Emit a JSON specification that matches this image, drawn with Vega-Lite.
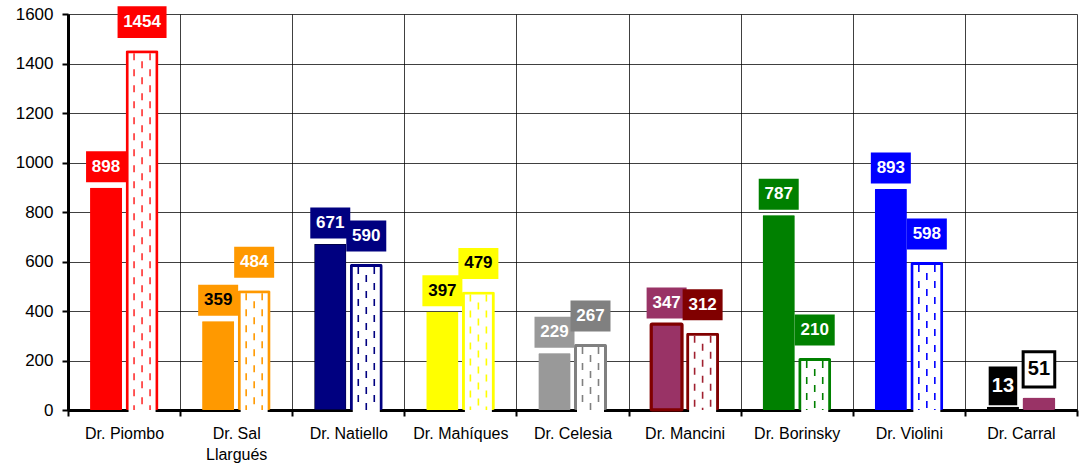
{
  "$schema": "https://vega.github.io/schema/vega-lite/v6.json",
  "width": 1009,
  "height": 396,
  "autosize": {"type": "none"},
  "padding": {"left": 68, "top": 14, "right": 2, "bottom": 56},
  "background": "white",
  "config": {"view": {"stroke": null}, "font": "Liberation Sans"},
  "data": {
    "values": [
      {"doctor": "Dr. Piombo", "serie": "A", "value": 898},
      {"doctor": "Dr. Piombo", "serie": "B", "value": 1454},
      {"doctor": "Dr. Sal Llargués", "serie": "A", "value": 359},
      {"doctor": "Dr. Sal Llargués", "serie": "B", "value": 484},
      {"doctor": "Dr. Natiello", "serie": "A", "value": 671},
      {"doctor": "Dr. Natiello", "serie": "B", "value": 590},
      {"doctor": "Dr. Mahíques", "serie": "A", "value": 397},
      {"doctor": "Dr. Mahíques", "serie": "B", "value": 479},
      {"doctor": "Dr. Celesia", "serie": "A", "value": 229},
      {"doctor": "Dr. Celesia", "serie": "B", "value": 267},
      {"doctor": "Dr. Mancini", "serie": "A", "value": 347},
      {"doctor": "Dr. Mancini", "serie": "B", "value": 312},
      {"doctor": "Dr. Borinsky", "serie": "A", "value": 787},
      {"doctor": "Dr. Borinsky", "serie": "B", "value": 210},
      {"doctor": "Dr. Violini", "serie": "A", "value": 893},
      {"doctor": "Dr. Violini", "serie": "B", "value": 598},
      {"doctor": "Dr. Carral", "serie": "A", "value": 13},
      {"doctor": "Dr. Carral", "serie": "B", "value": 51}
    ]
  },
  "transform": [{"calculate": "datum.doctor + ' ' + datum.serie", "as": "key"}],
  "encoding": {
    "x": {
      "field": "doctor", "type": "nominal", "sort": null,
      "scale": {"paddingInner": 0, "paddingOuter": 0},
      "axis": {
        "title": null, "tickBand": "extent", "grid": true, "gridColor": "#000", "gridWidth": 1, "gridOpacity": 0.75,
        "domainColor": "#000", "domainWidth": 3, "tickColor": "#000", "tickWidth": 2, "tickSize": 6,
        "labelAngle": 0, "labelFont": "Liberation Sans", "labelFontSize": 16, "labelColor": "#000",
        "labelPadding": 9, "labelLineHeight": 21, "labelBaseline": "top",
        "labelExpr": "datum.value == 'Dr. Sal Llargués' ? ['Dr. Sal', 'Llargués'] : datum.value"
      }
    },
    "y": {
      "field": "value", "type": "quantitative",
      "scale": {"domain": [0, 1600], "nice": false},
      "axis": {
        "title": null, "values": [0, 200, 400, 600, 800, 1000, 1200, 1400, 1600], "format": "d",
        "grid": true, "gridColor": "#000", "gridWidth": 1, "gridOpacity": 0.75,
        "domainColor": "#000", "domainWidth": 3, "tickColor": "#000", "tickWidth": 2, "tickSize": 6,
        "labelFont": "Liberation Sans", "labelFontSize": 17, "labelColor": "#000", "labelPadding": 9
      }
    }
  },
  "layer": [
    {
      "transform": [{"filter": "datum.serie == 'A'"}],
      "mark": {"type": "bar", "cornerRadius": 1, "strokeWidth": 1, "width": 32, "xOffset": -18},
      "encoding": {
        "fill": {"field": "key", "type": "nominal", "legend": null, "scale": {
          "domain": ["Dr. Piombo A","Dr. Sal Llargués A","Dr. Natiello A","Dr. Mahíques A","Dr. Celesia A","Dr. Mancini A","Dr. Borinsky A","Dr. Violini A","Dr. Carral A"],
          "range": ["#FF0000","#FF9900","#000080","#FFFF00","#999999","#993366","#008000","#0000FF","#000000"]}},
        "stroke": {"field": "key", "type": "nominal", "legend": null, "scale": {
          "domain": ["Dr. Piombo A","Dr. Sal Llargués A","Dr. Natiello A","Dr. Mahíques A","Dr. Celesia A","Dr. Mancini A","Dr. Borinsky A","Dr. Violini A","Dr. Carral A"],
          "range": ["#FF0000","#FF9900","#000000","#FFFF00","#999999","#800000","#008000","#0000FF","#000000"]}}
      }
    },
    {
      "transform": [{"filter": "datum.doctor == 'Dr. Mancini' && datum.serie == 'A'"}],
      "mark": {"type": "bar", "cornerRadius": 1, "strokeWidth": 3, "width": 31, "xOffset": -18, "fill": "#993366", "stroke": "#800000"},
      "encoding": {}
    },
    {
      "transform": [{"filter": "datum.serie == 'B'"}],
      "mark": {"type": "bar", "cornerRadius": 2, "width": 33, "xOffset": 18},
      "encoding": {
        "fill": {"field": "key", "type": "nominal", "legend": null, "scale": {
          "domain": ["Dr. Piombo B","Dr. Sal Llargués B","Dr. Natiello B","Dr. Mahíques B","Dr. Celesia B","Dr. Mancini B","Dr. Borinsky B","Dr. Violini B","Dr. Carral B"],
          "range": ["#FF0000","#FF9900","#000080","#FFFF00","#808080","#800000","#008000","#0000FF","#993366"]}}
      }
    },
    {
      "transform": [{"filter": "datum.serie == 'B' && datum.doctor != 'Dr. Carral'"}],
      "mark": {"type": "bar", "width": 27, "xOffset": 18, "yOffset": 3, "y2Offset": 0, "fill": "#FFFFFF"},
      "encoding": {}
    },
    {
      "transform": [{"filter": "datum.serie == 'B' && datum.doctor != 'Dr. Carral'"}],
      "mark": {"type": "rule", "xOffset": 10, "yOffset": 3, "strokeDash": [7, 9], "strokeWidth": 1.6},
      "encoding": {
        "y2": {"datum": 0},
        "stroke": {"field": "key", "type": "nominal", "legend": null, "scale": {
          "domain": ["Dr. Piombo B","Dr. Sal Llargués B","Dr. Natiello B","Dr. Mahíques B","Dr. Celesia B","Dr. Mancini B","Dr. Borinsky B","Dr. Violini B"],
          "range": ["#FF3030","#FF9900","#000080","#FFFF00","#808080","#A02030","#008000","#0000FF"]}}
      }
    },
    {
      "transform": [{"filter": "datum.serie == 'B' && datum.doctor != 'Dr. Carral'"}],
      "mark": {"type": "rule", "xOffset": 26, "yOffset": 3, "strokeDash": [7, 9], "strokeWidth": 1.6},
      "encoding": {
        "y2": {"datum": 0},
        "stroke": {"field": "key", "type": "nominal", "legend": null, "scale": {
          "domain": ["Dr. Piombo B","Dr. Sal Llargués B","Dr. Natiello B","Dr. Mahíques B","Dr. Celesia B","Dr. Mancini B","Dr. Borinsky B","Dr. Violini B"],
          "range": ["#FF3030","#FF9900","#000080","#FFFF00","#808080","#A02030","#008000","#0000FF"]}}
      }
    },
    {
      "transform": [{"filter": "datum.serie == 'B' && datum.doctor != 'Dr. Carral'"}],
      "mark": {"type": "rule", "xOffset": 18, "yOffset": 3, "strokeDash": [7, 9], "strokeDashOffset": 8, "strokeWidth": 1.6},
      "encoding": {
        "y2": {"datum": 0},
        "stroke": {"field": "key", "type": "nominal", "legend": null, "scale": {
          "domain": ["Dr. Piombo B","Dr. Sal Llargués B","Dr. Natiello B","Dr. Mahíques B","Dr. Celesia B","Dr. Mancini B","Dr. Borinsky B","Dr. Violini B"],
          "range": ["#FF3030","#FF9900","#000080","#FFFF00","#808080","#A02030","#008000","#0000FF"]}}
      }
    },
    {
      "transform": [{"filter": "datum.serie == 'A'"}],
      "mark": {"type": "point", "filled": true, "opacity": 1, "xOffset": -18, "yOffset": -21, "size": 961},
      "encoding": {
        "shape": {"condition": [{"test": "datum.value >= 1000", "value": "M-1.58,-1.03H1.58V1.03H-1.58Z"}, {"test": "datum.value < 100", "value": "M-0.92,-1.25H0.92V1.25H-0.92Z"}], "value": "M-1.29,-1H1.29V1H-1.29Z"},
        "fill": {"field": "key", "type": "nominal", "legend": null, "scale": {
          "domain": ["Dr. Piombo A","Dr. Sal Llargués A","Dr. Natiello A","Dr. Mahíques A","Dr. Celesia A","Dr. Mancini A","Dr. Borinsky A","Dr. Violini A","Dr. Carral A"],
          "range": ["#FF0000","#FF9900","#000080","#FFFF00","#999999","#993366","#008000","#0000FF","#000000"]}}
      }
    },
    {
      "transform": [{"filter": "datum.serie == 'B'"}],
      "mark": {"type": "point", "filled": true, "opacity": 1, "xOffset": 18, "yOffset": -28, "size": 961},
      "encoding": {
        "shape": {"condition": [{"test": "datum.value >= 1000", "value": "M-1.58,-1.03H1.58V1.03H-1.58Z"}, {"test": "datum.value < 100", "value": "M-1.02,-1.13H1.02V1.13H-1.02Z"}], "value": "M-1.29,-1H1.29V1H-1.29Z"},
        "fill": {"field": "key", "type": "nominal", "legend": null, "scale": {
          "domain": ["Dr. Piombo B","Dr. Sal Llargués B","Dr. Natiello B","Dr. Mahíques B","Dr. Celesia B","Dr. Mancini B","Dr. Borinsky B","Dr. Violini B","Dr. Carral B"],
          "range": ["#FF0000","#FF9900","#000080","#FFFF00","#808080","#800000","#008000","#0000FF","#FFFFFF"]}}
      }
    },
    {
      "transform": [{"filter": "datum.serie == 'B' && datum.doctor == 'Dr. Carral'"}],
      "mark": {"type": "point", "filled": false, "opacity": 1, "xOffset": 18, "yOffset": -28, "size": 961, "shape": "M-1.02,-1.13H1.02V1.13H-1.02Z", "stroke": "#000000", "strokeWidth": 3, "fill": null},
      "encoding": {}
    },
    {
      "transform": [{"filter": "datum.serie == 'A'"}],
      "mark": {"type": "text", "xOffset": -18, "yOffset": -21, "fontWeight": "bold", "font": "Liberation Sans", "baseline": "middle", "align": "center"},
      "encoding": {
        "text": {"field": "value", "type": "quantitative"},
        "color": {"field": "key", "type": "nominal", "legend": null, "scale": {
          "domain": ["Dr. Piombo A","Dr. Sal Llargués A","Dr. Natiello A","Dr. Mahíques A","Dr. Celesia A","Dr. Mancini A","Dr. Borinsky A","Dr. Violini A","Dr. Carral A"],
          "range": ["#FFFFFF","#000000","#FFFFFF","#000000","#FFFFFF","#FFFFFF","#FFFFFF","#FFFFFF","#FFFFFF"]}},
        "size": {"condition": {"test": "datum.doctor == 'Dr. Carral'", "value": 20}, "value": 17}
      }
    },
    {
      "transform": [{"filter": "datum.serie == 'B'"}],
      "mark": {"type": "text", "xOffset": 18, "yOffset": -28, "fontWeight": "bold", "font": "Liberation Sans", "baseline": "middle", "align": "center"},
      "encoding": {
        "text": {"field": "value", "type": "quantitative"},
        "color": {"field": "key", "type": "nominal", "legend": null, "scale": {
          "domain": ["Dr. Piombo B","Dr. Sal Llargués B","Dr. Natiello B","Dr. Mahíques B","Dr. Celesia B","Dr. Mancini B","Dr. Borinsky B","Dr. Violini B","Dr. Carral B"],
          "range": ["#FFFFFF","#FFFFFF","#FFFFFF","#000000","#FFFFFF","#FFFFFF","#FFFFFF","#FFFFFF","#000000"]}},
        "size": {"condition": {"test": "datum.doctor == 'Dr. Carral'", "value": 20}, "value": 17}
      }
    }
  ],
  "resolve": {"scale": {"fill": "independent", "stroke": "independent", "color": "independent"}}
}
